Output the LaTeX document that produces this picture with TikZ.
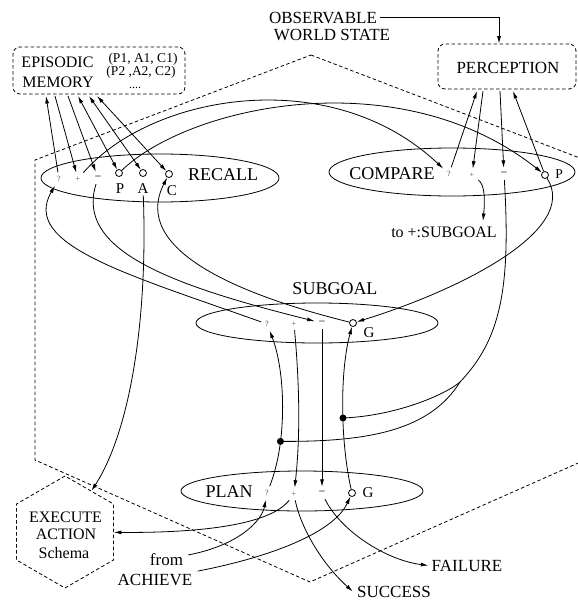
\documentclass[tikz,border=0pt]{standalone}
\usepackage{fontspec}
\setmainfont{Liberation Serif}
\usetikzlibrary{arrows.meta,shapes.geometric,calc}
\begin{document}
\begin{tikzpicture}[x=1pt,y=-1pt,
  line width=0.8pt,
  >={Latex[length=7.5pt,width=4pt]},
  dsh/.style={dash pattern=on 3.5pt off 2.5pt},
  biglbl/.style={font=\fontsize{18}{20}\selectfont, inner sep=3pt, anchor=base},
  lbl/.style={font=\fontsize{17}{19}\selectfont, inner sep=3pt, anchor=base},
  midlbl/.style={font=\fontsize{16}{18}\selectfont, inner sep=2pt, anchor=base},
  tuplbl/.style={font=\fontsize{13.5}{15}\selectfont, inner sep=0pt, anchor=base},
  plbl/.style={font=\fontsize{15}{17}\selectfont, inner sep=2pt, anchor=base},
  portq/.style={font=\fontsize{8}{8}\selectfont, text=black!70, inner sep=1pt, outer sep=3pt},
  portm/.style={font=\fontsize{12}{12}\selectfont, inner sep=1pt, outer sep=3pt},
  portc/.style={draw, circle, inner sep=0pt, minimum size=7pt, fill=white},
  oval/.style={draw, ellipse, inner sep=0pt},
  jdot/.style={circle, fill=black, inner sep=0pt, minimum size=7pt},
  dbox/.style={draw, dsh, rounded corners=7pt, inner sep=0pt},
]
\useasboundingbox (0,0) rectangle (578,600);
\clip (0,0) rectangle (578,600);

% big dashed hexagon (background)
\draw[dsh] (311,55) -- (585,160) -- (585,460) -- (310,582) -- (35,460) -- (35,160) -- cycle;

% boxes
\node[dbox, minimum width=172pt, minimum height=47pt] (mem) at (99,70.5) {};
\node[midlbl] (memA) at (57.5,67) {EPISODIC};
\node[midlbl] (memB) at (58,87) {MEMORY};
\node[tuplbl] (tupA) at (143,62) {(P1, A1, C1)};
\node[tuplbl] (tupB) at (141,75) {(P2 ,A2, C2)};
\node[tuplbl, font=\fontsize{12}{12}\selectfont] (tupC) at (135,88) {....};

\node[dbox, minimum width=138pt, minimum height=45pt] (percep) at (507,66.5) {};
\node[lbl] (perceplbl) at (508,73) {PERCEPTION};

\node[lbl] (obs1) at (323,23) {OBSERVABLE};
\node[lbl] (obs2) at (332,40) {WORLD STATE};

\node[draw, dsh, regular polygon, regular polygon sides=6, shape border rotate=30,
      minimum size=112pt, inner sep=0pt] (exec) at (65,532) {};
\node[midlbl] (execA) at (65.5,522) {EXECUTE};
\node[midlbl] (execB) at (66,539) {ACTION};
\node[midlbl] (execC) at (64,558) {Schema};

% ellipses
\node[oval, minimum width=238pt, minimum height=48pt] (recall) at (160,178) {};
\node[biglbl] (recalllbl) at (223,180) {RECALL};
\node[oval, minimum width=246pt, minimum height=48pt] (compare) at (452,172) {};
\node[biglbl] (comparelbl) at (392,179) {COMPARE};
\node[oval, minimum width=242pt, minimum height=40pt] (subgoal) at (317,323) {};
\node[biglbl] (subgoallbl) at (335,294) {SUBGOAL};
\node[oval, minimum width=242pt, minimum height=40pt] (plan) at (302,491) {};
\node[biglbl] (planlbl) at (229,497) {PLAN};

% RECALL ports
\node[portq] (rq) at (59,179) {?};
\node[portq] (rp) at (78,179) {+};
\node[portm] (rm) at (98,178) {−};
\node[portc] (rP) at (119,173) {};
\node[portc] (rA) at (143,173) {};
\node[portc] (rC) at (169,174) {};
\node[plbl] (rPl) at (120,193) {P};
\node[plbl] (rAl) at (143,193) {A};
\node[plbl] (rCl) at (172,195) {C};

% COMPARE ports
\node[portq] (cq) at (449,174) {?};
\node[portq] (cp) at (472,175) {+};
\node[portm] (cm) at (504,174) {−};
\node[portc] (cP) at (545,175) {};
\node[tuplbl, inner sep=1pt] (cPl) at (559,178) {P};

% SUBGOAL ports
\node[portq] (sq) at (267,324) {?};
\node[portq] (sp) at (294,324) {+};
\node[portm] (sm) at (322,323) {−};
\node[portc] (sG) at (353,323) {};
\node[plbl] (sGl) at (369,337) {G};

% PLAN ports
\node[portq] (pq) at (267,493) {?};
\node[portq] (pp) at (294,494) {+};
\node[portm] (pm) at (322,493) {−};
\node[portc] (pG) at (352,493) {};
\node[plbl] (pGl) at (368,497) {G};

% other labels
\node[midlbl] (tosub) at (444,237) {to +:SUBGOAL};
\node[lbl, inner sep=5pt] (from) at (166.5,565) {from};
\node[lbl, inner sep=5pt] (achieve) at (155,585) {ACHIEVE};
\node[lbl, inner sep=1pt] (succ) at (394,597) {SUCCESS};
\node[lbl] (fail) at (467,571) {FAILURE};

% coordinates
\coordinate (m1) at (46,96);
\coordinate (m2) at (55,96);
\coordinate (m3) at (68,96);
\coordinate (m4) at (78,96);
\coordinate (m5) at (89,96);
\coordinate (m6) at (97,96);
\coordinate (q1) at (477,91);
\coordinate (q2) at (483,91);
\coordinate (q3) at (500,91);
\coordinate (q4) at (513,91);
\coordinate (tosubin) at (483,221);
\coordinate (fork) at (460,382);
\coordinate (obsin) at ($(percep.north)+(-8,0)$);
\coordinate (succin) at ($(succ.west)+(-3,0)$);

% observable -> perception
\draw[->] (obs1.east) -| (obsin);

% memory <-> recall
\draw[->] (rq) -- (m1);
\draw[->] (m2) -- (rp);
\draw[->] (m3) -- (rm);
\draw[<->] (m4) -- (rP);
\draw[<->] (m5) -- (rA);
\draw[<->] (m6) -- (rC);

% perception <-> compare
\draw[->] (cq) -- (q1);
\draw[->] (q2) -- (cp);
\draw[->] (q3) -- (cm);
\draw[->] (cP) -- (q4);

% recall -> compare
\draw[->] (rp) .. controls (150,95) and (330,62) .. (cq);
\draw[->] (rP) .. controls (190,105) and (400,60) .. (cP);

% recall <-> subgoal
\draw[->] (sq) .. controls (130,275) and (20,245) .. (rq);
\draw[->] (rm) .. controls (75,250) and (170,285) .. (sm);
\draw[->] (sG) .. controls (240,295) and (130,250) .. (rC);
\draw[->] (rAl) .. controls (148,320) and (130,431) .. (exec);

% compare outputs
\draw[->] (cp) .. controls (485,185) and (485,200) .. (tosubin);
\draw[->] (cP) .. controls (580,230) and (460,290) .. (sG);

% subgoal <-> plan
\draw[->] (pq) .. controls (288,440) and (285,370) .. (sq) coordinate[pos=0.29] (dot2);
\draw[->] (sp) .. controls (300,390) and (300,440) .. (pp);
\draw[->] (sm) -- (pm);
\draw[->] (pG) .. controls (340,440) and (340,370) .. (sG) coordinate[pos=0.43] (dot1);

% compare minus -> fork -> dots
\draw (cm) .. controls (511,290) and (500,340) .. (fork);
\draw (fork) .. controls (445,395) and (395,416) .. (dot1);
\draw (fork) .. controls (430,430) and (370,442) .. (dot2);
\node[jdot] (j1) at (dot1) {};
\node[jdot] (j2) at (dot2) {};

% plan outputs / inputs
\draw[->] (from) .. controls (240,545) and (262,520) .. (pq);
\draw[->] (achieve) .. controls (280,555) and (335,530) .. (pG);
\draw[->] (pp) .. controls (270,525) and (200,533) .. (exec);
\draw[->] (pp) .. controls (300,525) and (320,562) .. (succin);
\draw[->] (pm) .. controls (340,530) and (385,560) .. (fail.west);
\end{tikzpicture}
\end{document}
